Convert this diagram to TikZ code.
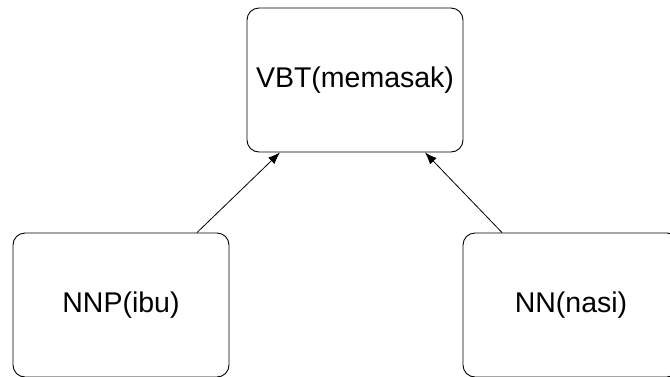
\documentclass[tikz,border=0pt]{standalone}
\usepackage{fontspec}
\setmainfont{Liberation Sans}
\usetikzlibrary{arrows.meta}
\begin{document}
\begin{tikzpicture}[x=1pt,y=-1pt,
  box/.style={draw=black, line width=0.9pt, rounded corners=12pt, minimum width=216pt, minimum height=144pt, inner sep=0pt, font=\fontsize{28.5}{32}\selectfont},
  conn/.style={draw=black, line width=0.8pt, -{Latex[length=12pt,width=9pt]}}]
\useasboundingbox (0,0) rectangle (670,376);
\begin{scope}
\clip (0,0) rectangle (670,376);
\node[box] (vbt) at (355,80) {VBT(memasak)};
\node[box] (nnp) at (121,305) {NNP(ibu)};
\node[box] (nn) at (571,305) {NN(nasi)};
\end{scope}
\draw[conn] ([xshift=76pt]nnp.north) -- ([xshift=-75pt]vbt.south);
\draw[conn] ([xshift=-69pt]nn.north) -- ([xshift=70pt]vbt.south);
\end{tikzpicture}
\end{document}
